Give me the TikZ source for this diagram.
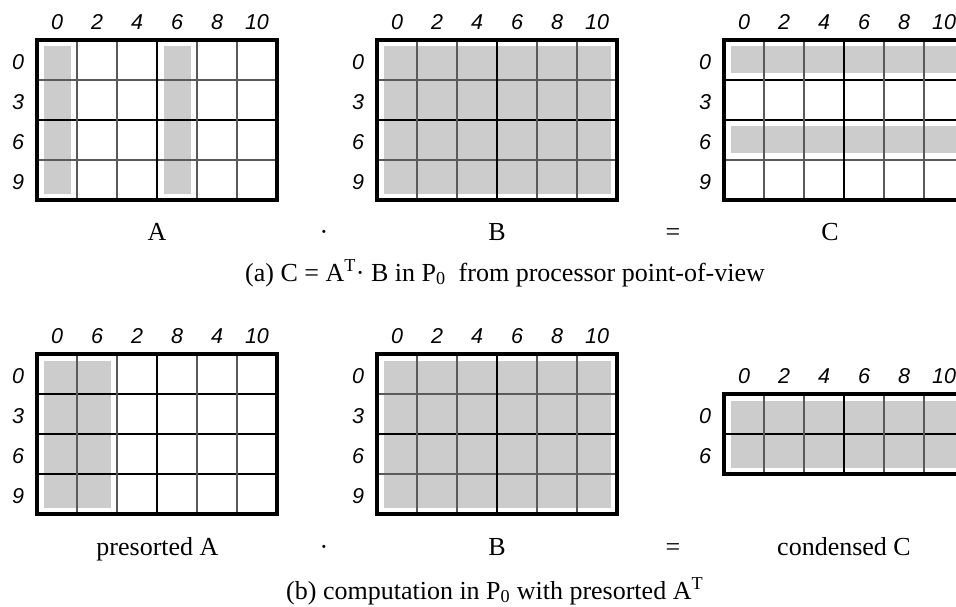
\documentclass[tikz,border=0pt]{standalone}
\usepackage{fontspec}
\setmainfont{Liberation Serif}
\newfontfamily\lblfont{Liberation Sans}
\definecolor{cellgray}{HTML}{CCCCCC}
\definecolor{linegray}{HTML}{5A5A5A}
\tikzset{
  shadebox/.style={fill=cellgray,draw=none},
  gridthin/.style={draw=linegray,line width=1.2pt},
  gridbold/.style={draw=black,line width=1.4pt},
  framebox/.style={draw=black,line width=3.2pt},
  idx/.style={font=\lblfont\itshape\fontsize{21.5}{21.5}\selectfont,inner sep=0pt},
  captxt/.style={font=\fontsize{26}{30}\selectfont,inner sep=0pt,anchor=base},
}
% labels: name, x0, y0, col labels, row labels
\newcommand\mlabels[5]{%
  \foreach \lab [count=\i from 0] in {#4} {\node[idx] (#1c\i) at ({#2+20+40*\i},{#3-18}) {\lab};}
  \foreach \lab [count=\j from 0] in {#5} {\node[idx] (#1r\j) at ({#2-19},{#3+22+40*\j}) {\lab};}
}
% vertical lines and frame: x0, y0, nrows
\newcommand\mframe[3]{%
  \foreach \i in {1,2,4,5} {\draw[gridthin] ({#1+40*\i},#2) -- ({#1+40*\i},{#2+40*#3});}
  \draw[gridbold] ({#1+120},#2) -- ({#1+120},{#2+40*#3});
  \draw[framebox] (#1,#2) rectangle ({#1+240},{#2+40*#3});
}
% one horizontal line: style, x0, y
\newcommand\mhline[3]{\draw[#1] (#2,#3) -- ({#2+240},#3);}
\begin{document}
\begin{tikzpicture}[x=1pt,y=-1pt]
\useasboundingbox (0,0) rectangle (956,607);
\begin{scope}
\clip (0,0) rectangle (956,607);
\fill[white] (0,0) rectangle (956,607);

% ---------- top A ----------
\fill[shadebox] (43.5,46.5) rectangle (70.5,193.5);
\fill[shadebox] (163.5,46.5) rectangle (190.5,193.5);
\mhline{gridthin}{37}{80}
\mhline{gridbold}{37}{120}
\mhline{gridthin}{37}{160}
\mframe{37}{40}{4}
\mlabels{tA}{37}{40}{0,2,4,6,8,10}{0,3,6,9}

% ---------- top B ----------
\fill[shadebox] (383.5,46.5) rectangle (610.5,193.5);
\mhline{gridthin}{377}{80}
\mhline{gridbold}{377}{120}
\mhline{gridthin}{377}{160}
\mframe{377}{40}{4}
\mlabels{tB}{377}{40}{0,2,4,6,8,10}{0,3,6,9}

% ---------- top C ----------
\fill[shadebox] (730.5,46.5) rectangle (957.5,73.5);
\fill[shadebox] (730.5,126.5) rectangle (957.5,153.5);
\mhline{gridbold}{724}{80}
\mhline{gridbold}{724}{120}
\mhline{gridthin}{724}{160}
\mframe{724}{40}{4}
\mlabels{tC}{724}{40}{0,2,4,6,8,10}{0,3,6,9}

% ---------- bottom presorted A ----------
\fill[shadebox] (43.5,360.5) rectangle (110.5,507.5);
\mhline{gridbold}{37}{394}
\mhline{gridbold}{37}{434}
\mhline{gridbold}{37}{474}
\mframe{37}{354}{4}
\mlabels{bA}{37}{354}{0,6,2,8,4,10}{0,3,6,9}

% ---------- bottom B ----------
\fill[shadebox] (383.5,360.5) rectangle (610.5,507.5);
\mhline{gridthin}{377}{394}
\mhline{gridbold}{377}{434}
\mhline{gridthin}{377}{474}
\mframe{377}{354}{4}
\mlabels{bB}{377}{354}{0,2,4,6,8,10}{0,3,6,9}

% ---------- bottom condensed C ----------
\fill[shadebox] (730.5,400.5) rectangle (957.5,467.5);
\mhline{gridbold}{724}{434}
\mframe{724}{394}{2}
\mlabels{bC}{724}{394}{0,2,4,6,8,10}{0,6}

% ---------- texts ----------
\node[captxt] (lA) at (157,240) {A};
\node[captxt] (ldotA) at (324,240) {·};
\node[captxt] (lB) at (497,240) {B};
\node[captxt] (leqA) at (673,240) {=};
\node[captxt] (lC) at (830,240) {C};
\node[captxt,anchor=base west] (capA) at (245,281)
  {(a) C = A\textsuperscript{T}· B in P\textsubscript{0}\ \ from processor point-of-view};

\node[captxt] (lpA) at (157.5,555) {presorted A};
\node[captxt] (ldotB) at (324,555) {·};
\node[captxt] (lB2) at (497,555) {B};
\node[captxt] (leqB) at (673,555) {=};
\node[captxt] (lcC) at (844,555) {condensed C};
\node[captxt,anchor=base west] (capB) at (286,599)
  {(b) computation in P\textsubscript{0} with presorted A\textsuperscript{T}};
\end{scope}
\end{tikzpicture}
\end{document}
